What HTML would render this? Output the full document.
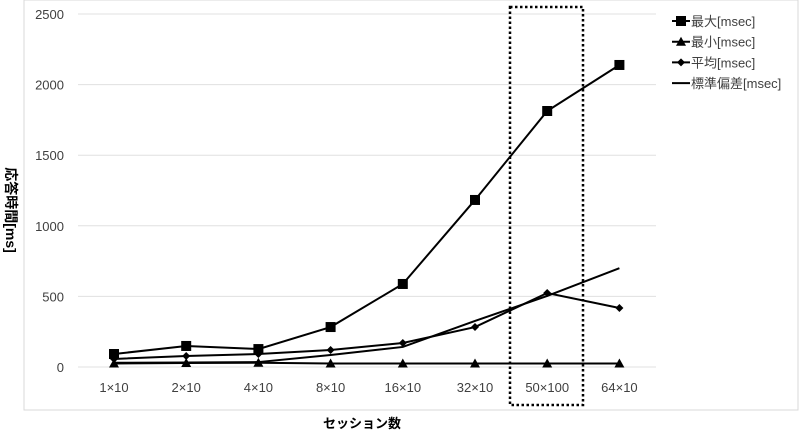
<!DOCTYPE html>
<html><head><meta charset="utf-8"><style>
body{margin:0;background:#fff;}
svg{display:block;font-family:"Liberation Sans","Noto Sans CJK JP",sans-serif;}
</style></head><body>
<svg id="chart" width="799" height="431">
<rect x="24" y="0" width="774" height="410" fill="#fff" stroke="#d9d9d9"/>
<g id="grid"></g><g id="ticks"></g><g id="series"></g>
<rect x="510" y="7" width="73" height="398" fill="none" stroke="#000" stroke-width="2.5" stroke-dasharray="2.5,2.5"/>
<text x="6" y="210" font-size="14" font-weight="bold" transform="rotate(90 6 210)" text-anchor="middle" style="writing-mode:horizontal-tb">応答時間[ms]</text>
<text x="362" y="428" font-size="13" font-weight="bold" text-anchor="middle">セッション数</text>
<g id="legend"></g>
</svg>
<script>
const categories=["1×10","2×10","4×10","8×10","16×10","32×10","50×100","64×10"];
const yTicks=[0,500,1000,1500,2000,2500];
const maxVals=[92,149,127,283,588,1183,1813,2139];
const minVals=[25,28,30,25,25,25,25,25];
const avgVals=[57,78,92,120,170,283,524,418];
const stdVals=[30,32,35,85,142,326,503,700];
const seriesNames=["最大[msec]","最小[msec]","平均[msec]","標準偏差[msec]"];
const NS="http://www.w3.org/2000/svg";
const x=i=>114+i*72.2;
const y=v=>367-v*353/2500;
function mk(tag,attrs,parent){const e=document.createElementNS(NS,tag);for(const k in attrs)e.setAttribute(k,attrs[k]);parent.appendChild(e);return e;}
const grid=document.getElementById('grid'),ticks=document.getElementById('ticks'),ser=document.getElementById('series'),leg=document.getElementById('legend');
yTicks.forEach(t=>{
 const l=mk('line',{x1:78,x2:656,y1:y(t),y2:y(t),stroke:'#e0e0e0','stroke-width':1},grid);
 
 
 const tx=mk('text',{x:64,y:y(t)+5,'font-size':13,'text-anchor':'end',fill:'#404040'},ticks);
 tx.textContent=t;
 
 
});
categories.forEach((c,i)=>{
 const tx=mk('text',{x:x(i),y:392,'font-size':13,'text-anchor':'middle',fill:'#404040'},ticks);
 tx.textContent=c;
 
 
});
function marker(type,cx,cy,g){
 if(type==='square')return mk('rect',{x:cx-5,y:cy-5,width:10,height:10,fill:'#000'},g);
 if(type==='tri')return mk('polygon',{points:`${cx},${cy-5} ${cx+5},${cy+4} ${cx-5},${cy+4}`,fill:'#000'},g);
 if(type==='diamond')return mk('polygon',{points:`${cx},${cy-4} ${cx+4},${cy} ${cx},${cy+4} ${cx-4},${cy}`,fill:'#000'},g);
 return null;
}
const all=[[maxVals,'square','max'],[minVals,'tri','min'],[avgVals,'diamond','avg'],[stdVals,'none','stddev']];
all.forEach(([vals,m,n])=>{
 const g=mk('g',{},ser);
 
 
 const p=mk('polyline',{points:vals.map((v,i)=>x(i)+','+y(v)).join(' '),fill:'none',stroke:'#000','stroke-width':2},g);
 
 
 vals.forEach((v,i)=>{const mm=marker(m,x(i),y(v),g);if(mm){
  
  }});
});
all.forEach(([vals,m,n],k)=>{
 const ly=21+k*20.7;
 const g=mk('g',{},leg);
 
 
 mk('line',{x1:672,x2:690,y1:ly,y2:ly,stroke:'#000','stroke-width':2},g);
 marker(m,681,ly,g);
 const t=mk('text',{x:691,y:ly+5,'font-size':13,fill:'#404040'},g);
 t.textContent=seriesNames[k];
});
</script>
</body></html>
